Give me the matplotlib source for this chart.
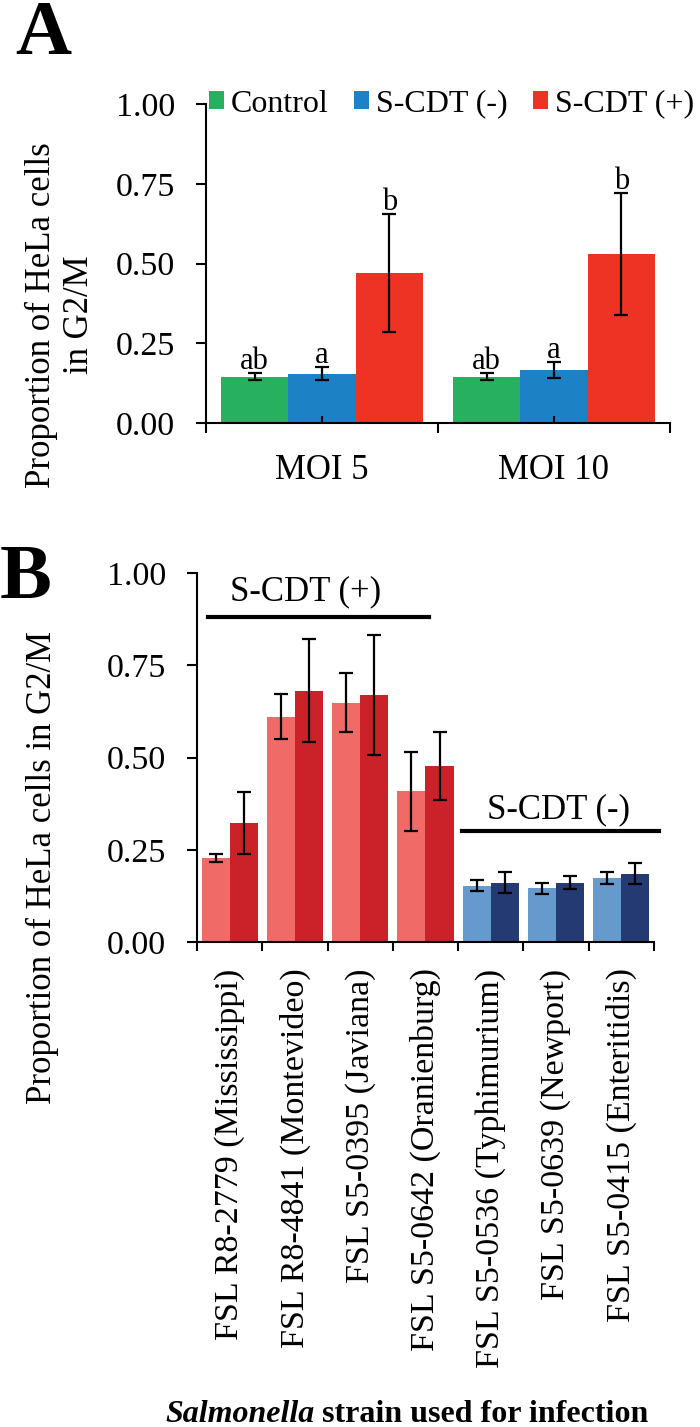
import numpy as np
import matplotlib
matplotlib.use('Agg')
import matplotlib.pyplot as plt
from matplotlib.patches import Patch

plt.rcParams['font.family'] = ['Liberation Serif', 'DejaVu Serif']

# panel A data
moi_labels = ['MOI 5', 'MOI 10']
control = [0.145, 0.145]
control_err = [0.011, 0.011]
cdt_neg = [0.155, 0.167]
cdt_neg_err = [0.019, 0.025]
cdt_pos = [0.47, 0.53]
cdt_pos_err = [0.186, 0.19]
letters_control = ['ab', 'ab']
letters_neg = ['a', 'a']
letters_pos = ['b', 'b']

# panel B data
strains = ['FSL R8-2779 (Mississippi)', 'FSL R8-4841 (Montevideo)',
           'FSL S5-0395 (Javiana)', 'FSL S5-0642 (Oranienburg)',
           'FSL S5-0536 (Typhimurium)', 'FSL S5-0639 (Newport)',
           'FSL S5-0415 (Enteritidis)']
rep1 = [0.228, 0.611, 0.649, 0.408, 0.153, 0.145, 0.174]
rep1_err = [0.011, 0.06, 0.08, 0.106, 0.016, 0.014, 0.016]
rep2 = [0.322, 0.681, 0.670, 0.476, 0.161, 0.161, 0.185]
rep2_err = [0.084, 0.14, 0.163, 0.092, 0.028, 0.018, 0.028]
cdt_status = ['+', '+', '+', '+', '-', '-', '-']

W, H = 700.0, 1427.0
fig = plt.figure(figsize=(7, 14.27), dpi=100)


def px_axes(left, top, right, bottom):
    return fig.add_axes([left / W, 1 - bottom / H, (right - left) / W, (bottom - top) / H])


def style_axes(ax):
    for s in ['top', 'right']:
        ax.spines[s].set_visible(False)
    for s in ['left', 'bottom']:
        ax.spines[s].set_linewidth(1.5)
    ax.set_ylim(0, 1)
    ax.set_yticks([0, 0.25, 0.5, 0.75, 1.0])
    ax.set_yticklabels(['0.00', '0.25', '0.50', '0.75', '1.00'])
    ax.tick_params(axis='y', direction='out', length=7.2, width=1.5, pad=15, labelsize=24.5)


# ---------------- panel A ----------------
axA = px_axes(206, 104, 670, 423)
style_axes(axA)
x = np.arange(len(moi_labels))
bw = 0.29
errkw = dict(fmt='none', ecolor='black', elinewidth=1.6, capsize=4.7, capthick=1.6)
series = [(control, control_err, '#26B05F', 'Control', letters_control),
          (cdt_neg, cdt_neg_err, '#1D81C6', 'S-CDT (-)', letters_neg),
          (cdt_pos, cdt_pos_err, '#EE3224', 'S-CDT (+)', letters_pos)]
handles = []
for i, (vals, errs, col, lab, lets) in enumerate(series):
    xp = x + (i - 1) * bw
    axA.bar(xp, vals, bw, color=col, edgecolor='none')
    axA.errorbar(xp, vals, yerr=errs, **errkw)
    for j in range(len(vals)):
        axA.annotate(lets[j], (xp[j], vals[j] + errs[j]), xytext=(0, 3),
                     textcoords='offset points', ha='center', va='baseline', fontsize=22)
    handles.append(Patch(facecolor=col, edgecolor='none', label=lab))

axA.set_xlim(-0.5, len(moi_labels) - 0.5)
axA.set_xticks(np.arange(len(moi_labels) + 1) - 0.5)
axA.set_xticklabels([])
axA.set_xticks(x, minor=True)
axA.set_xticklabels(moi_labels, minor=True)
axA.tick_params(axis='x', which='major', direction='out', length=7.2, width=1.5)
axA.tick_params(axis='x', which='minor', direction='in', length=5, width=1.5, pad=22, labelsize=25)

axA.legend(handles=handles, loc='center left', bbox_to_anchor=(0.006, 1.0), ncol=3,
           frameon=False, fontsize=23, handlelength=0.47, handleheight=0.47,
           handletextpad=0.22, columnspacing=0.8, borderpad=0, borderaxespad=0)

fig.text(41 / W, 1 - 315 / H, 'Proportion of HeLa cells', rotation=90,
         ha='center', va='center', fontsize=25)
fig.text(80 / W, 1 - 315 / H, 'in G2/M', rotation=90,
         ha='center', va='center', fontsize=25)
fig.text(15 / W, 1 - 54 / H, 'A', fontsize=56, fontweight='bold', va='baseline')

# ---------------- panel B ----------------
axB = px_axes(197, 573, 654, 942)
style_axes(axB)
xb = np.arange(len(strains))
bwb = 0.43
light = ['#F06B68' if s == '+' else '#6699CC' for s in cdt_status]
dark = ['#CB2229' if s == '+' else '#243A73' for s in cdt_status]
axB.bar(xb - bwb / 2, rep1, bwb, color=light, edgecolor='none')
axB.bar(xb + bwb / 2, rep2, bwb, color=dark, edgecolor='none')
axB.errorbar(xb - bwb / 2, rep1, yerr=rep1_err, **errkw)
axB.errorbar(xb + bwb / 2, rep2, yerr=rep2_err, **errkw)

axB.set_xlim(-0.5, len(strains) - 0.5)
axB.set_xticks(np.arange(len(strains) + 1) - 0.5)
axB.set_xticklabels([])
axB.set_xticks(xb, minor=True)
axB.set_xticklabels(strains, minor=True, rotation=90)
axB.tick_params(axis='x', which='major', direction='out', length=6.5, width=1.5)
axB.tick_params(axis='x', which='minor', length=0, pad=19, labelsize=24.5)

# group bars
axB.plot([-0.33, 3.05], [0.881, 0.881], color='black', lw=3, clip_on=False)
axB.text(1.17, 0.927, 'S-CDT (+)', ha='center', va='baseline', fontsize=25)
axB.plot([3.56, 6.57], [0.30, 0.30], color='black', lw=3, clip_on=False)
axB.text(5.04, 0.336, 'S-CDT (-)', ha='center', va='baseline', fontsize=25)

fig.text(42 / W, 1 - 868 / H, 'Proportion of HeLa cells in G2/M', rotation=90,
         ha='center', va='center', fontsize=25)
fig.text(0 / W, 1 - 598 / H, 'B', fontsize=56, fontweight='bold', va='baseline')

# x label: italic genus name + bold text, centred as one line
yl = 1 - 1422 / H
t1 = fig.text(0, yl, 'Salmonella', fontsize=23, fontweight='bold', fontstyle='italic', va='baseline')
t2 = fig.text(0, yl, ' strain used for infection', fontsize=23, fontweight='bold', va='baseline')
r = fig.canvas.get_renderer()
w1 = t1.get_window_extent(r).width
w2 = t2.get_window_extent(r).width
left = 407 - (w1 + w2) / 2
t1.set_x(left / W)
t2.set_x((left + w1) / W)

fig.savefig('out.png', dpi=100)
